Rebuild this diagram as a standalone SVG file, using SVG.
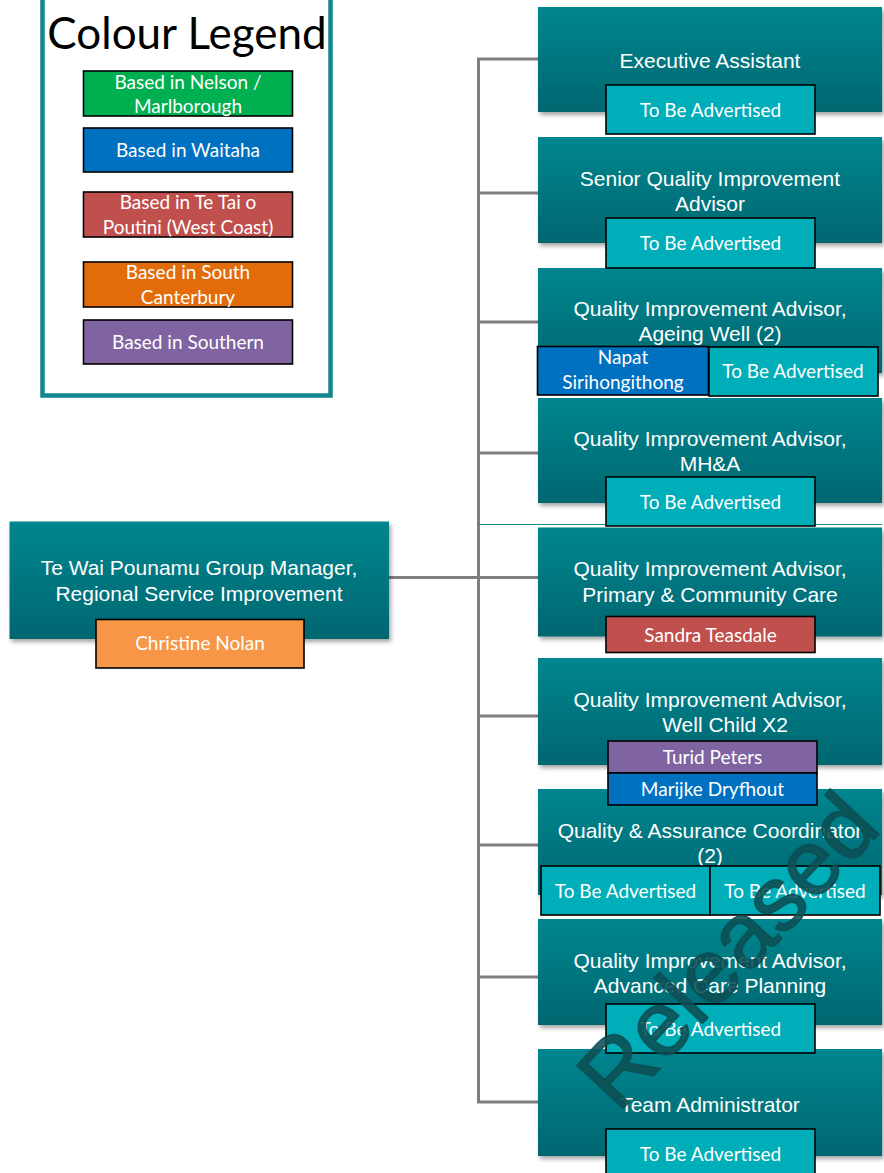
<svg xmlns="http://www.w3.org/2000/svg" width="884" height="1173" viewBox="0 0 884 1173">
<defs>
<linearGradient id="tg" x1="0" y1="0" x2="0" y2="1">
<stop offset="0" stop-color="#03868F"/>
<stop offset="1" stop-color="#006670"/>
</linearGradient>
<filter id="sh" x="-5%" y="-5%" width="112%" height="125%">
<feDropShadow dx="2" dy="3" stdDeviation="2" flood-color="#000" flood-opacity="0.35"/>
</filter>
<style>
.node{fill:url(#tg);filter:url(#sh)}
.title{font-family:"Liberation Sans",Arial,sans-serif;font-size:21px;fill:#fff;text-anchor:middle}
.sub{stroke:#000;stroke-width:1.6}
.tba{fill:#00AEB9}
.blue{fill:#0070C0}
.red{fill:#C0504D}
.purple{fill:#8064A2}
.orange{fill:#F79646}
.green{fill:#00B050}
.dorange{fill:#E36C0A}
.st{font-family:Lato,"Liberation Sans",sans-serif;font-size:19px;fill:#fff;text-anchor:middle}
.conn{stroke:#7F7F7F;stroke-width:3;fill:none}
</style>
</defs>
<rect width="884" height="1173" fill="#fff"/>

<g id="legend">
<rect x="42.5" y="-10" width="288" height="405.5" fill="#fff" stroke="#12868F" stroke-width="4.5"/>
<text x="187" y="48.5" font-family="Lato,'Liberation Sans',sans-serif" font-size="44" fill="#000" text-anchor="middle">Colour Legend</text>
<rect class="sub green" x="83.5" y="71" width="209" height="45"/>
<text class="st" x="188" y="88.5">Based in Nelson /</text>
<text class="st" x="188" y="112.5">Marlborough</text>
<rect class="sub blue" x="83.5" y="128" width="209" height="44"/>
<text class="st" x="188" y="157">Based in Waitaha</text>
<rect class="sub red" x="83.5" y="192" width="209" height="45"/>
<text class="st" x="188" y="209">Based in Te Tai o</text>
<text class="st" x="188" y="233.5">Poutini (West Coast)</text>
<rect class="sub dorange" x="83.5" y="262" width="209" height="45"/>
<text class="st" x="188" y="279">Based in South</text>
<text class="st" x="188" y="303.5">Canterbury</text>
<rect class="sub purple" x="83.5" y="320" width="209" height="44"/>
<text class="st" x="188" y="348.5">Based in Southern</text>
</g>

<g id="connectors">
<line class="conn" x1="389" y1="577.5" x2="538" y2="577.5"/>
<line class="conn" x1="478.5" y1="59" x2="478.5" y2="1103"/>
<line class="conn" x1="477" y1="59" x2="538" y2="59"/>
<line class="conn" x1="477" y1="193" x2="538" y2="193"/>
<line class="conn" x1="477" y1="322" x2="538" y2="322"/>
<line class="conn" x1="477" y1="453" x2="538" y2="453"/>
<line class="conn" x1="477" y1="716" x2="538" y2="716"/>
<line class="conn" x1="477" y1="845" x2="538" y2="845"/>
<line class="conn" x1="477" y1="977" x2="538" y2="977"/>
<line class="conn" x1="477" y1="1102" x2="538" y2="1102"/>
<line x1="477" y1="524.5" x2="882" y2="524.5" stroke="#1A8A92" stroke-width="1.2"/>
</g>

<g id="manager">
<rect class="node" x="9.5" y="521.5" width="379.5" height="117.5"/>
<text class="title" x="199" y="575">Te Wai Pounamu Group Manager,</text>
<text class="title" x="199" y="601">Regional Service Improvement</text>
<rect class="sub orange" x="96" y="619.5" width="208" height="48.5"/>
<text class="st" x="200" y="650">Christine Nolan</text>
</g>

<g id="team-administrator">
<rect class="node" x="538" y="1049" width="344" height="107"/>
<text class="title" x="710" y="1112">Team Administrator</text>
<rect class="sub tba" x="606" y="1129" width="209" height="51"/>
<text class="st" x="710.5" y="1161">To Be Advertised</text>
</g>

<g id="qia-advanced-care">
<rect class="node" x="538" y="919" width="344" height="106"/>
<text class="title" x="710" y="968">Quality Improvement Advisor,</text>
<text class="title" x="710" y="993">Advanced Care Planning</text>
<rect class="sub tba" x="606" y="1004" width="209" height="49"/>
<text class="st" x="710.5" y="1036">To Be Advertised</text>
</g>

<g id="qa-coordinator">
<rect class="node" x="538" y="789" width="344" height="106"/>
<text class="title" x="710" y="838">Quality &amp; Assurance Coordinator</text>
<text class="title" x="710" y="863">(2)</text>
<rect class="sub tba" x="541" y="866" width="169" height="49"/>
<text class="st" x="625.5" y="898">To Be Advertised</text>
<rect class="sub tba" x="710" y="866" width="170" height="49"/>
<text class="st" x="795" y="898">To Be Advertised</text>
</g>

<g id="qia-well-child">
<rect class="node" x="538" y="658" width="344" height="107"/>
<text class="title" x="710" y="707">Quality Improvement Advisor,</text>
<text class="title" x="725" y="732">Well Child X2</text>
<rect class="sub purple" x="608" y="741" width="209" height="32"/>
<text class="st" x="712.5" y="764">Turid Peters</text>
<rect class="sub blue" x="608" y="773" width="209" height="32"/>
<text class="st" x="712.5" y="796">Marijke Dryfhout</text>
</g>

<g id="qia-primary">
<rect class="node" x="538" y="527.5" width="344" height="109"/>
<text class="title" x="710" y="576">Quality Improvement Advisor,</text>
<text class="title" x="710" y="602">Primary &amp; Community Care</text>
<rect class="sub red" x="606" y="616.5" width="209" height="36"/>
<text class="st" x="710.5" y="641.5">Sandra Teasdale</text>
</g>

<g id="qia-mha">
<rect class="node" x="538" y="398" width="344" height="105"/>
<text class="title" x="710" y="446">Quality Improvement Advisor,</text>
<text class="title" x="710" y="471">MH&amp;A</text>
<rect class="sub tba" x="606" y="477" width="209" height="49"/>
<text class="st" x="710.5" y="509">To Be Advertised</text>
</g>

<g id="qia-ageing-well">
<rect class="node" x="538" y="268" width="344" height="105"/>
<text class="title" x="710" y="315.5">Quality Improvement Advisor,</text>
<text class="title" x="710" y="341">Ageing Well (2)</text>
<rect class="sub blue" x="537.5" y="346.5" width="171" height="48.5"/>
<text class="st" x="623" y="364">Napat</text>
<text class="st" x="623" y="388.5">Sirihongithong</text>
<rect class="sub tba" x="709" y="347" width="169" height="49"/>
<text class="st" x="793" y="378">To Be Advertised</text>
</g>

<g id="senior-qia">
<rect class="node" x="538" y="137" width="344" height="106"/>
<text class="title" x="710" y="186">Senior Quality Improvement</text>
<text class="title" x="710" y="210.5">Advisor</text>
<rect class="sub tba" x="606" y="218" width="209" height="50"/>
<text class="st" x="710.5" y="250">To Be Advertised</text>
</g>

<g id="executive-assistant">
<rect class="node" x="538" y="7" width="344" height="105"/>
<text class="title" x="710" y="68">Executive Assistant</text>
<rect class="sub tba" x="606" y="85" width="209" height="49"/>
<text class="st" x="710.5" y="117">To Be Advertised</text>
</g>

<text id="watermark" transform="translate(618,1114) rotate(-47)" font-family="'Liberation Sans',Arial,sans-serif" font-size="92" fill="#0B4E53" fill-opacity="0.88" stroke="#0B4E53" stroke-opacity="0.88" stroke-width="1.5">Released</text>
</svg>
